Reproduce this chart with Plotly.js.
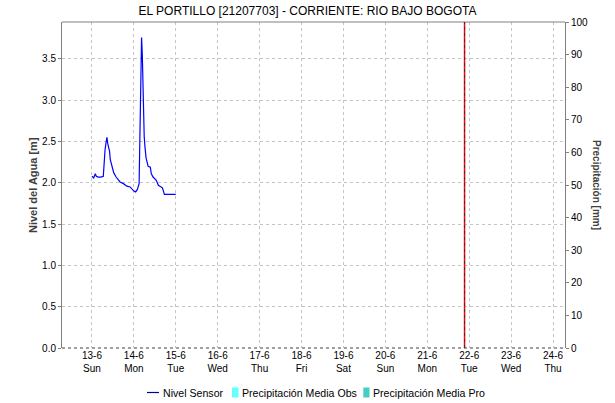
<!DOCTYPE html>
<html>
<head>
<meta charset="utf-8">
<script src="https://cdn.plot.ly/plotly-3.0.1.min.js"></script>
<style>html,body{margin:0;padding:0;background:#fff;}#chart{width:615px;height:403px;}</style>
</head>
<body>
<div id="chart"></div>
<script>
// Nivel Sensor (m) readings
const nivelTimes = [
  "2021-06-13 00:00","2021-06-13 01:00","2021-06-13 01:55","2021-06-13 02:30","2021-06-13 03:30",
  "2021-06-13 05:00","2021-06-13 06:30","2021-06-13 07:00","2021-06-13 07:30","2021-06-13 08:10",
  "2021-06-13 08:35","2021-06-13 09:00","2021-06-13 10:05","2021-06-13 10:30","2021-06-13 11:20",
  "2021-06-13 12:30","2021-06-13 13:50","2021-06-13 16:05","2021-06-13 18:00","2021-06-13 20:00",
  "2021-06-13 21:50","2021-06-13 23:00","2021-06-14 00:00","2021-06-14 01:00","2021-06-14 02:00",
  "2021-06-14 03:00","2021-06-14 03:25","2021-06-14 03:50","2021-06-14 04:05","2021-06-14 04:25",
  "2021-06-14 04:50","2021-06-14 05:20","2021-06-14 05:55","2021-06-14 06:25","2021-06-14 07:00",
  "2021-06-14 08:10","2021-06-14 09:25","2021-06-14 10:00","2021-06-14 11:00","2021-06-14 12:50",
  "2021-06-14 14:00","2021-06-14 16:20","2021-06-14 17:30","2021-06-15 00:00"
];
const nivelValues = [
  2.08,2.06,2.11,2.08,2.07,
  2.07,2.08,2.30,2.40,2.50,
  2.55,2.48,2.38,2.28,2.20,
  2.12,2.07,2.01,1.99,1.96,
  1.95,1.92,1.90,1.89,1.92,
  1.99,2.44,2.95,3.40,3.76,
  3.55,3.04,2.56,2.42,2.30,
  2.20,2.19,2.11,2.07,2.03,
  1.97,1.94,1.86,1.86
];
// Precipitation series (no data in this period)
const precipObsTimes = [];
const precipObsValues = [];
const precipProTimes = [];
const precipProValues = [];

// X axis ticks
const tickDates = ["2021-06-13","2021-06-14","2021-06-15","2021-06-16","2021-06-17","2021-06-18",
  "2021-06-19","2021-06-20","2021-06-21","2021-06-22","2021-06-23","2021-06-24"];
const tickDayLabels = ["13-6","14-6","15-6","16-6","17-6","18-6","19-6","20-6","21-6","22-6","23-6","24-6"];
const tickWeekdays = ["Sun","Mon","Tue","Wed","Thu","Fri","Sat","Sun","Mon","Tue","Wed","Thu"];
const tickText = tickDayLabels.map((d,i)=>d+"<br>"+tickWeekdays[i]);

const legendNames = ["Nivel Sensor","Precipitación Media Obs","Precipitación Media Pro"];
const seriesColors = ["#0000ff","#66ffff","#48cdc6"];

const xRange = ["2021-06-12 06:51","2021-06-24 06:51"];
const nowMarker = "2021-06-21 21:20";

const FAM = "Liberation Sans, Arial, sans-serif";
const font = {family:FAM, size:10, color:"#000"};

// plot area geometry (px) for placing legend items
const PL = 62, PW = 503, PT = 22, PH = 326;
const px2x = px => (px - PL) / PW;
const py2y = py => (PT + PH - py) / PH;
const legY = 392.5;

const traces = [
  {x:nivelTimes, y:nivelValues, type:"scatter", mode:"lines", name:legendNames[0],
   line:{color:seriesColors[0], width:1.2}, xaxis:"x", yaxis:"y", hoverinfo:"skip"},
  {x:precipObsTimes.length?precipObsTimes:[null], y:precipObsValues.length?precipObsValues:[null],
   type:"bar", name:legendNames[1], marker:{color:seriesColors[1]}, xaxis:"x", yaxis:"y2"},
  {x:precipProTimes.length?precipProTimes:[null], y:precipProValues.length?precipProValues:[null],
   type:"bar", name:legendNames[2], marker:{color:seriesColors[2]}, xaxis:"x", yaxis:"y2"}
];

const legendTextX = [163, 241.5, 372.5];
const annotations = [
  {text:"<b>Nivel del Agua [m]</b>", textangle:-90, xref:"paper", yref:"paper", x:px2x(33), y:0.5,
   xanchor:"center", yanchor:"middle", showarrow:false, font:{family:FAM, size:11, color:"#404040"}},
  {text:"<b>Precipitación [mm]</b>", textangle:90, xref:"paper", yref:"paper", x:px2x(597), y:0.5,
   xanchor:"center", yanchor:"middle", showarrow:false, font:{family:FAM, size:10, color:"#404040"}}
].concat(legendNames.map((n,i)=>({
  text:n, xref:"paper", yref:"paper", x:px2x(legendTextX[i]-2), y:py2y(legY), xanchor:"left", yanchor:"middle",
  showarrow:false, font:{family:FAM, size:10.6, color:"#000"}
})));

const layout = {
  width:615, height:403,
  margin:{l:PL, r:615-PL-PW, t:PT, b:403-PT-PH, pad:0},
  paper_bgcolor:"#fff", plot_bgcolor:"#fff",
  font:font,
  title:{text:"EL PORTILLO [21207703] - CORRIENTE: RIO BAJO BOGOTA",
    font:{family:FAM, size:12, color:"#000"},
    x:0.5, xanchor:"center", y:0.972, yanchor:"middle", yref:"container"},
  xaxis:{type:"date", range:xRange, tickvals:tickDates, ticktext:tickText,
    showgrid:true, gridcolor:"#c4c4c4", griddash:"dot", gridwidth:1,
    showline:false, zeroline:false, ticks:"", tickfont:font, fixedrange:true},
  yaxis:{range:[0,3.947], tickvals:[0,0.5,1,1.5,2,2.5,3,3.5], ticktext:["0.0","0.5","1.0","1.5","2.0","2.5","3.0","3.5"],
    showgrid:true, gridcolor:"#c4c4c4", griddash:"dot", gridwidth:1,
    showline:true, linecolor:"#808080", linewidth:1, zeroline:false,
    ticks:"outside", ticklen:3, tickcolor:"#808080", tickfont:font},
  yaxis2:{range:[0,100], overlaying:"y", side:"right", dtick:10,
    showgrid:false, showline:true, linecolor:"#808080", linewidth:1, zeroline:false,
    ticks:"outside", ticklen:3, tickcolor:"#808080", tickfont:font},
  showlegend:false,
  annotations:annotations,
  shapes:[
    {type:"line", xref:"paper", yref:"paper", x0:0, x1:1, y0:1, y1:1, line:{color:"#808080", width:1}},
    {type:"line", xref:"paper", yref:"paper", x0:0, x1:1, y0:0, y1:0, line:{color:"#404040", width:1, dash:"dot"}},
    {type:"line", xref:"x", yref:"paper", x0:nowMarker, x1:nowMarker, y0:0, y1:1, line:{color:"#ff0000", width:1.5}},
    {type:"line", xref:"x", yref:"paper", x0:nowMarker, x1:nowMarker, y0:0, y1:1, line:{color:"#333", width:1, dash:"dot"}},
    // legend symbols
    {type:"line", xref:"paper", yref:"paper", x0:px2x(147), x1:px2x(159), y0:py2y(legY), y1:py2y(legY),
     line:{color:"#00008b", width:1.2}},
    {type:"rect", xref:"paper", yref:"paper", x0:px2x(232), x1:px2x(238.5), y0:py2y(397.5), y1:py2y(387.5),
     line:{width:0}, fillcolor:seriesColors[1]},
    {type:"rect", xref:"paper", yref:"paper", x0:px2x(363.3), x1:px2x(369.5), y0:py2y(397.5), y1:py2y(387.5),
     line:{width:0}, fillcolor:seriesColors[2]}
  ]
};

Plotly.newPlot("chart", traces, layout, {staticPlot:true, displayModeBar:false});
</script>
</body>
</html>
